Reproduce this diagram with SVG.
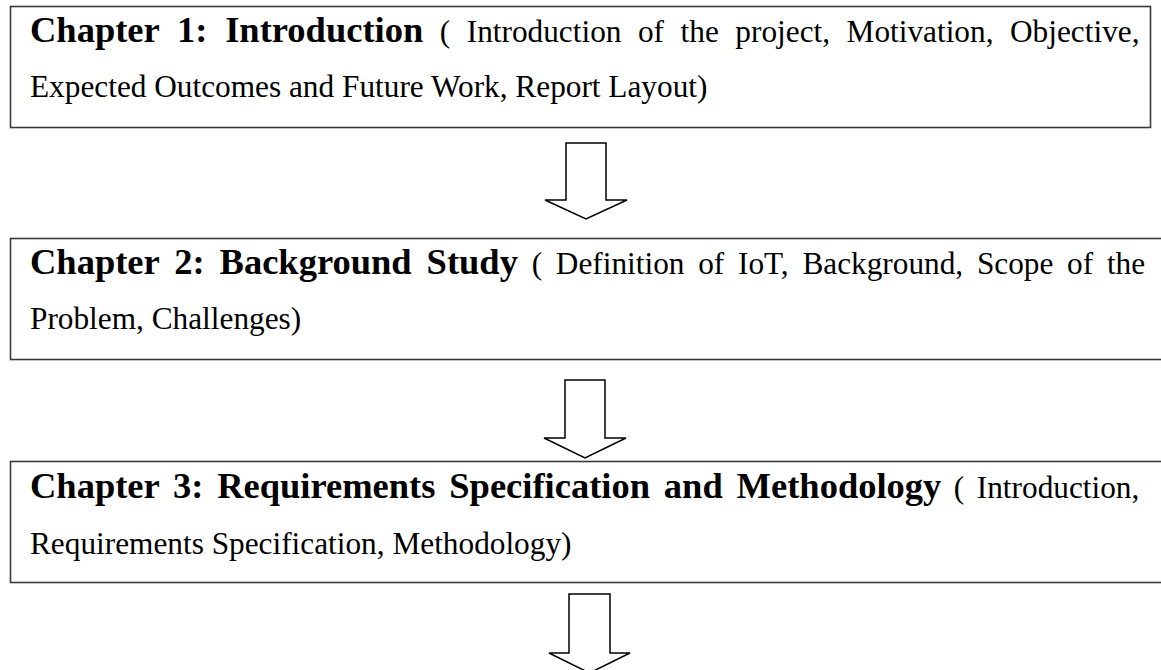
<svg xmlns="http://www.w3.org/2000/svg" width="1161" height="670" viewBox="0 0 1161 670">
<style>
.box{fill:#fff;stroke:#3a3a3a;stroke-width:1.6}
.arr{fill:#fff;stroke:#000;stroke-width:1.5;stroke-linejoin:miter}
.t{font-family:"Liberation Serif","Times New Roman",serif;font-size:31.3px;fill:#000}
.b{font-weight:bold;font-size:36.5px}
</style>
<rect width="1161" height="670" fill="#fff"/>
<g id="chapter1">
<rect class="box" x="10.5" y="6.5" width="1140" height="121"/>
<text class="t" x="30" y="42" style="word-spacing:8.7px"><tspan class="b">Chapter 1: Introduction</tspan> ( Introduction of the project, Motivation, Objective,</text>
<text class="t" x="30" y="97">Expected Outcomes and Future Work, Report Layout)</text>
</g>
<g id="chapter2">
<rect class="box" x="10.5" y="238.5" width="1160" height="121"/>
<text class="t" x="30" y="274" style="word-spacing:5.9px"><tspan class="b">Chapter 2: Background Study</tspan> ( Definition of IoT, Background, Scope of the</text>
<text class="t" x="30" y="329">Problem, Challenges)</text>
</g>
<g id="chapter3">
<rect class="box" x="10.5" y="461.5" width="1160" height="121"/>
<text class="t" x="30" y="498" style="word-spacing:4.7px"><tspan class="b">Chapter 3: Requirements Specification and Methodology</tspan> ( Introduction,</text>
<text class="t" x="30" y="554">Requirements Specification, Methodology)</text>
</g>
<g id="connectors">
<path class="arr" d="M566 143 H606 V200 H627 L586 219 L545 200 H566 Z"/>
<path class="arr" d="M565 380 H605 V438 H626 L585 458 L544 438 H565 Z"/>
<path class="arr" d="M569 594 H610 V653 H630 L589.5 673 L549 653 H569 Z"/>
</g>
</svg>
